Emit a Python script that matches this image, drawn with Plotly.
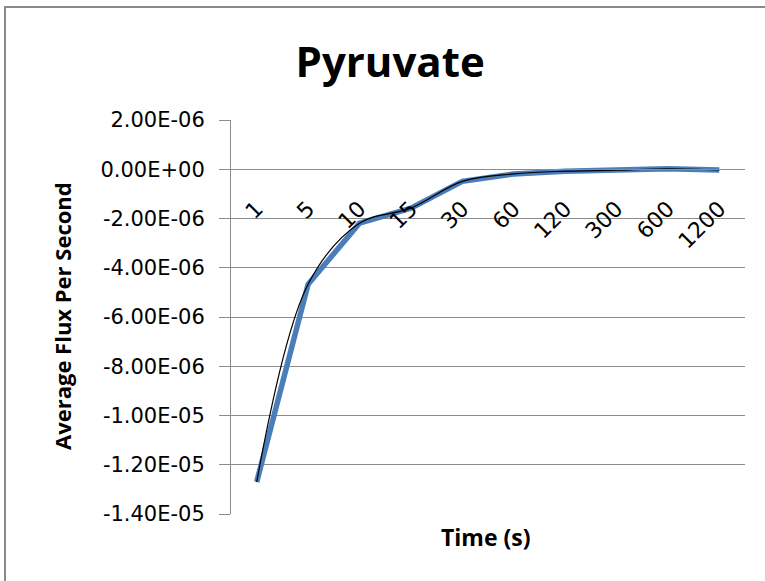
import plotly.graph_objects as go

# Sampling times (s), shown as evenly spaced categories
time_labels = ["1", "5", "10", "15", "30", "60", "120", "300", "600", "1200"]
# Average pyruvate flux per second at each time point
avg_flux = [-1.27e-5, -4.67e-6, -2.19e-6, -1.58e-6, -4.9e-7, -1.9e-7,
            -8e-8, -4e-8, 2e-8, -3e-8]

y_tick_vals = [2e-6, 0, -2e-6, -4e-6, -6e-6, -8e-6, -1e-5, -1.2e-5, -1.4e-5]
y_tick_text = ["2.00E-06", "0.00E+00", "-2.00E-06", "-4.00E-06", "-6.00E-06",
               "-8.00E-06", "-1.00E-05", "-1.20E-05", "-1.40E-05"]

W, H = 765, 581
L, R, T, B = 231, 20, 120, 67
plot_h = H - T - B
plot_w = W - L - R

font_family = "Open Sans, DejaVu Sans, sans-serif"
tick_family = "DejaVu Sans, Open Sans, sans-serif"
grid_col = "#8c8c8c"

fig = go.Figure()

fig.add_trace(go.Scatter(
    x=time_labels, y=avg_flux, mode="lines",
    line=dict(color="#4a7ebb", width=5.5),
    showlegend=False, hoverinfo="skip",
))
fig.add_trace(go.Scatter(
    x=time_labels, y=avg_flux, mode="lines",
    line=dict(color="black", width=1.2, shape="spline", smoothing=1),
    showlegend=False, hoverinfo="skip",
))

# the category axis crosses the value axis at zero
y_min, y_max = -1.4e-5, 2e-6
zero_pos = (0 - y_min) / (y_max - y_min)

fig.update_layout(
    width=W, height=H,
    margin=dict(l=L, r=R, t=T, b=B, pad=0),
    paper_bgcolor="white", plot_bgcolor="white",
    font=dict(family=font_family, color="black"),
    title=dict(
        text="<b>Pyruvate</b>", font=dict(size=42, family=font_family),
        xref="container", x=0.51, xanchor="center",
        yref="container", y=1 - 62 / H, yanchor="middle",
    ),
    xaxis=dict(
        type="category", categoryorder="array", categoryarray=time_labels,
        range=[-0.5, len(time_labels) - 0.5],
        anchor="free", position=zero_pos,
        showgrid=False, showline=True, linecolor=grid_col, linewidth=1,
        zeroline=False, ticks="", tickangle=-45,
        tickfont=dict(size=22, family=tick_family),
        ticklabelstandoff=17,
    ),
    yaxis=dict(
        range=[y_min, y_max], tickvals=y_tick_vals, ticktext=y_tick_text,
        showgrid=True, gridcolor=grid_col, gridwidth=1,
        zeroline=False, showline=True, linecolor=grid_col, linewidth=1,
        ticks="outside", ticklen=11, tickcolor=grid_col,
        tickfont=dict(size=21, family=tick_family),
        ticklabelstandoff=10,
    ),
    annotations=[
        dict(
            text="<b>Time (s)</b>", xref="paper", yref="paper",
            x=(486 - L) / plot_w, y=(H - 537 - B) / plot_h,
            xanchor="center", yanchor="middle", showarrow=False,
            font=dict(size=23, family=font_family),
        ),
        dict(
            text="<b>Average Flux Per Second</b>", xref="paper", yref="paper",
            x=(62 - L) / plot_w, y=(H - 316 - B) / plot_h,
            xanchor="center", yanchor="middle", showarrow=False,
            textangle=-90, font=dict(size=22, family=font_family),
        ),
    ],
    shapes=[dict(
        type="rect", xref="paper", yref="paper",
        x0=(5 - L) / plot_w, x1=(W + 80 - L) / plot_w,
        y0=-(B + 80) / plot_h, y1=(H - 7 - B) / plot_h,
        line=dict(color="#8a8a8a", width=2), fillcolor="rgba(0,0,0,0)",
        layer="below",
    )],
)

fig.write_html("out.html")
